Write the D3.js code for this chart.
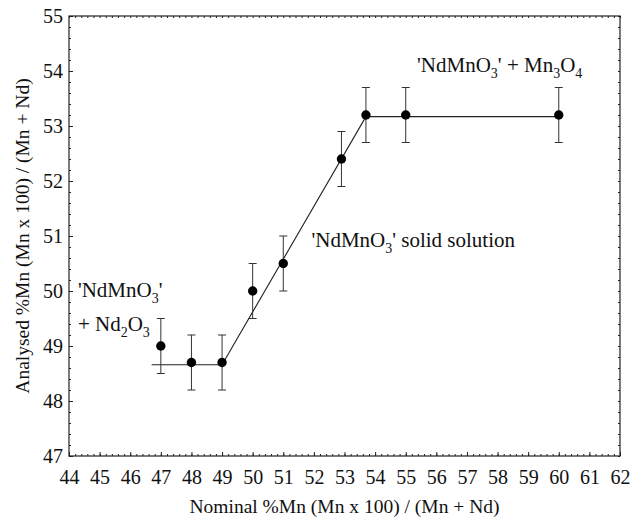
<!DOCTYPE html>
<html>
<head>
<meta charset="utf-8">
<script src="https://cdn.jsdelivr.net/npm/d3@7"></script>
<style>
  body { margin: 0; background: #fff; }
  svg text { fill: #111; }
</style>
</head>
<body>
<div id="chart"></div>
<script>
// Data
var nominal  = [47, 48, 49, 50, 51, 52.9, 53.7, 55, 60];
var analysed = [49.0, 48.7, 48.7, 50.0, 50.5, 52.4, 53.2, 53.2, 53.2];
var errBar   = [0.5, 0.5, 0.5, 0.5, 0.5, 0.5, 0.5, 0.5, 0.5];

// fitted phase boundary line
var fitX = [46.7, 49, 53.7, 60];
var fitY = [48.66, 48.66, 53.17, 53.17];

var xTicks = d3.range(44, 63, 1);
var yTicks = d3.range(47, 56, 1);

var serif = "'Times New Roman', Tinos, 'Liberation Serif', 'DejaVu Serif', serif";

var svgWidth = 631;
var svgHeight = 521;

var margin = { top: 16, right: 11, bottom: 65, left: 69 };
var width = svgWidth - margin.left - margin.right;
var height = svgHeight - margin.top - margin.bottom;

var svg = d3.select("#chart")
  .append("svg")
  .attr("width", svgWidth)
  .attr("height", svgHeight)
  .style("font-family", serif);

var chartGroup = svg.append("g")
  .attr("transform", `translate(${margin.left}, ${margin.top})`);

var xScale = d3.scaleLinear().domain([44, 62]).range([0, width]);
var yScale = d3.scaleLinear().domain([47, 55]).range([height, 0]);

// minor ticks every 0.2
var xMinor = d3.range(44, 62.01, 0.2);
var yMinor = d3.range(47, 55.01, 0.2);

function styleAxis(g) {
  g.select(".domain").remove();
  g.selectAll("line").attr("stroke", "#222").attr("stroke-width", 1);
  g.selectAll("text").style("font-size", "20px").style("font-family", serif).attr("fill", "#111");
}

// bottom axis
chartGroup.append("g")
  .attr("transform", `translate(0, ${height})`)
  .call(d3.axisBottom(xScale).tickValues(xMinor).tickSize(-2).tickFormat(""))
  .call(styleAxis);
chartGroup.append("g")
  .attr("transform", `translate(0, ${height})`)
  .call(d3.axisBottom(xScale).tickValues(xTicks).tickSize(-4).tickPadding(14).tickFormat(d3.format("d")))
  .call(styleAxis);

// top axis
chartGroup.append("g")
  .call(d3.axisTop(xScale).tickValues(xMinor).tickSize(-2).tickFormat(""))
  .call(styleAxis);

// left axis
chartGroup.append("g")
  .call(d3.axisLeft(yScale).tickValues(yMinor).tickSize(-2).tickFormat(""))
  .call(styleAxis);
chartGroup.append("g")
  .call(d3.axisLeft(yScale).tickValues(yTicks).tickSize(-4).tickPadding(6).tickFormat(d3.format("d")))
  .call(styleAxis);

// right axis
chartGroup.append("g")
  .attr("transform", `translate(${width}, 0)`)
  .call(d3.axisRight(yScale).tickValues(yMinor).tickSize(-2).tickFormat(""))
  .call(styleAxis);

// frame
chartGroup.append("rect")
  .attr("width", width)
  .attr("height", height)
  .attr("fill", "none")
  .attr("stroke", "#222")
  .attr("stroke-width", 1.2);

// fitted line
var fitData = fitX.map(function(x, i) { return [x, fitY[i]]; });
chartGroup.append("path")
  .datum(fitData)
  .attr("d", d3.line().x(d => xScale(d[0])).y(d => yScale(d[1])))
  .attr("fill", "none")
  .attr("stroke", "#222")
  .attr("stroke-width", 1.1);

var points = nominal.map(function(x, i) {
  return { x: x, y: analysed[i], e: errBar[i] };
});

// error bars
var errGroup = chartGroup.selectAll(".err")
  .data(points)
  .enter()
  .append("g")
  .attr("class", "err")
  .attr("stroke", "#333")
  .attr("stroke-width", 1);

errGroup.append("line")
  .attr("x1", d => xScale(d.x)).attr("x2", d => xScale(d.x))
  .attr("y1", d => yScale(d.y - d.e)).attr("y2", d => yScale(d.y + d.e));
errGroup.append("line")
  .attr("x1", d => xScale(d.x) - 4).attr("x2", d => xScale(d.x) + 4)
  .attr("y1", d => yScale(d.y + d.e)).attr("y2", d => yScale(d.y + d.e));
errGroup.append("line")
  .attr("x1", d => xScale(d.x) - 4).attr("x2", d => xScale(d.x) + 4)
  .attr("y1", d => yScale(d.y - d.e)).attr("y2", d => yScale(d.y - d.e));

// points
chartGroup.selectAll("circle")
  .data(points)
  .enter()
  .append("circle")
  .attr("cx", d => xScale(d.x))
  .attr("cy", d => yScale(d.y))
  .attr("r", 4.7)
  .attr("fill", "#000");

// annotations (position in data units, pieces: [text, isSub])
var notes = [
  { x: 55.37, y: 53.98, parts: [["'NdMnO", 0], ["3", 1], ["' + Mn", 0], ["3", 1], ["O", 0], ["4", 1]] },
  { x: 51.92, y: 50.8, parts: [["'NdMnO", 0], ["3", 1], ["' solid solution", 0]] },
  { x: 44.29, y: 49.89, parts: [["'NdMnO", 0], ["3", 1], ["'", 0]] },
  { x: 44.29, y: 49.27, parts: [["+ Nd", 0], ["2", 1], ["O", 0], ["3", 1]] }
];

notes.forEach(function(n) {
  var t = chartGroup.append("text")
    .attr("x", xScale(n.x))
    .attr("y", yScale(n.y))
    .style("font-family", serif)
    .style("font-size", "21px");
  var prevSub = 0;
  n.parts.forEach(function(p) {
    var dy = (p[1] ? 6 : 0) - (prevSub ? 6 : 0);
    t.append("tspan")
      .attr("dy", dy)
      .style("font-size", p[1] ? "14px" : "21px")
      .text(p[0]);
    prevSub = p[1];
  });
});

// axis titles
svg.append("text")
  .attr("x", margin.left + width / 2)
  .attr("y", 513)
  .attr("text-anchor", "middle")
  .style("font-family", serif)
  .style("font-size", "19.5px")
  .text("Nominal %Mn (Mn x 100) / (Mn + Nd)");

svg.append("text")
  .attr("transform", `translate(29, ${margin.top + height / 2}) rotate(-90)`)
  .attr("text-anchor", "middle")
  .style("font-family", serif)
  .style("font-size", "19.5px")
  .text("Analysed %Mn (Mn x 100) / (Mn + Nd)");
</script>
</body>
</html>
